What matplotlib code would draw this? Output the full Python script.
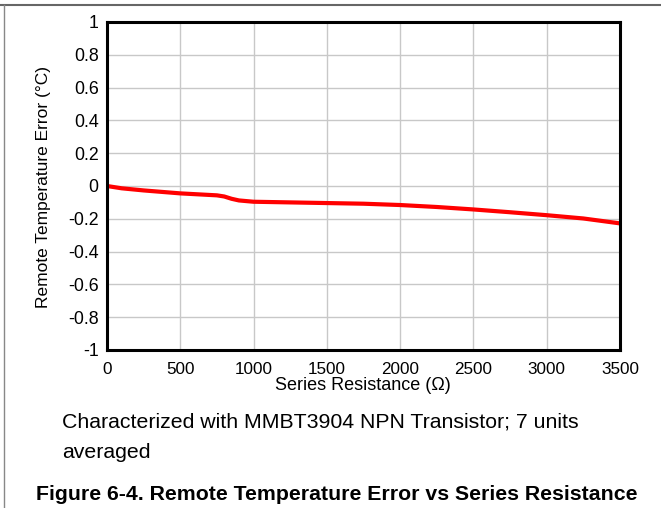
import matplotlib
matplotlib.use("Agg")
import matplotlib.pyplot as plt
from matplotlib.lines import Line2D

plt.rcParams['font.family'] = ['Liberation Sans', 'DejaVu Sans']

resistance = [0, 100, 250, 500, 750, 800, 850, 900, 1000, 1250, 1500, 1750, 2000, 2250, 2500, 2750, 3000, 3250, 3500]
temp_error = [0.0, -0.014, -0.027, -0.045, -0.057, -0.064, -0.078, -0.088, -0.096, -0.100, -0.104, -0.108, -0.116, -0.128, -0.143, -0.160, -0.178, -0.198, -0.228]

xticks = [0, 500, 1000, 1500, 2000, 2500, 3000, 3500]
yticks = [1, 0.8, 0.6, 0.4, 0.2, 0, -0.2, -0.4, -0.6, -0.8, -1]
ytick_labels = ["1", "0.8", "0.6", "0.4", "0.2", "0", "-0.2", "-0.4", "-0.6", "-0.8", "-1"]

W, H = 661, 508
fig = plt.figure(figsize=(W/100, H/100), dpi=100)
ax = fig.add_axes([107/W, 1-350/H, (620-107)/W, (350-22)/H])

ax.plot(resistance, temp_error, color='#ff0000', lw=3.0, solid_capstyle='butt')
ax.set_xlim(0, 3500)
ax.set_ylim(-1, 1)
ax.set_xticks(xticks)
ax.set_xticklabels([str(t) for t in xticks])
ax.set_yticks(yticks)
ax.set_yticklabels(ytick_labels)
ax.grid(True, color='#c8c8c8', lw=1.0)
ax.set_axisbelow(True)
ax.tick_params(axis='x', length=0, labelsize=12.3, pad=9)
ax.tick_params(axis='y', length=0, labelsize=12.8, pad=6)
for s in ax.spines.values():
    s.set_linewidth(2.2)
    s.set_color('black')

fig.text(363/W, 1-385/H, "Series Resistance (Ω)", fontsize=13, va='center', ha='center')
fig.text(44/W, 1-187/H, "Remote Temperature Error (°C)", fontsize=12.5, va='center', ha='center', rotation=90)

fig.text(62/W, 1-422/H, "Characterized with MMBT3904 NPN Transistor; 7 units", fontsize=15.3, va='center', ha='left')
fig.text(62/W, 1-452/H, "averaged", fontsize=15.3, va='center', ha='left')
fig.text(337/W, 1-494/H, "Figure 6-4. Remote Temperature Error vs Series Resistance", fontsize=15.3, fontweight='bold', va='center', ha='center')

fig.add_artist(Line2D([0, 1], [1-5/H, 1-5/H], transform=fig.transFigure, color='#666666', lw=1.5))
fig.add_artist(Line2D([4/W, 4/W], [0, 1-5/H], transform=fig.transFigure, color='#888888', lw=1.0))

fig.savefig("out.png", dpi=100)
